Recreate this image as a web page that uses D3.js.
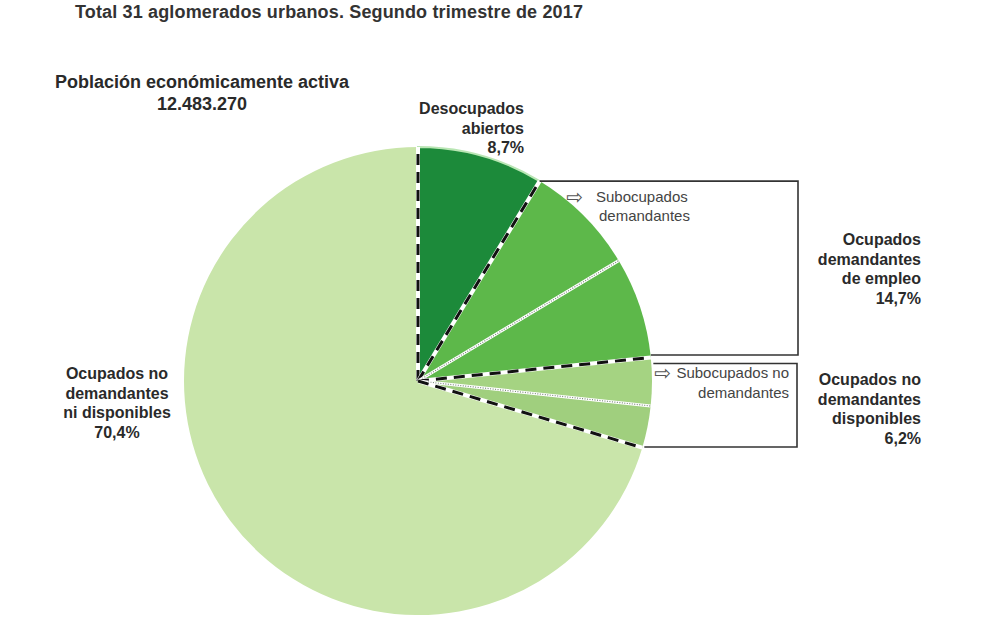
<!DOCTYPE html>
<html>
<head>
<meta charset="utf-8">
<script src="https://cdn.jsdelivr.net/npm/d3@7"></script>
<style>
  body { margin: 0; background: #fff; }
  svg { display: block; font-family: "Liberation Sans", Arial, sans-serif; }
</style>
</head>
<body>
<div id="chart"></div>
<script>
// data
const sliceNames = ["Desocupados abiertos", "Subocupados demandantes", "Otros ocupados demandantes",
  "Subocupados no demandantes", "Otros ocupados no demandantes disponibles", "Ocupados no demandantes ni disponibles"];
const sliceValues = [8.7, 7.7, 7.0, 3.3, 2.9, 70.4];
const sliceColors = ["#1c8a3a", "#5db84a", "#5db84a", "#a5d382", "#a0cf7e", "#c9e5aa"];
// line drawn at the start of each slice
const edgeTypes = ["dashed", "dashed", "dotted", "dashed", "dotted", "dashed"];

const titleText = "Total 31 aglomerados urbanos. Segundo trimestre de 2017";
const peaLines = ["Población económicamente activa", "12.483.270"];
const groupLabels = [
  { lines: ["Desocupados", "abiertos", "8,7%"], x: 524, y: 114, anchor: "end" },
  { lines: ["Ocupados", "demandantes", "de empleo", "14,7%"], x: 921, y: 245, anchor: "end" },
  { lines: ["Ocupados no", "demandantes", "disponibles", "6,2%"], x: 921, y: 385, anchor: "end" },
  { lines: ["Ocupados no", "demandantes", "ni disponibles", "70,4%"], x: 117, y: 379, anchor: "middle" }
];

const width = 1000, height = 627;
const cx = 418, cy = 381, radius = 234;

const svg = d3.select("#chart").append("svg")
  .attr("width", width)
  .attr("height", height);

svg.append("text")
  .attr("x", 75).attr("y", 18)
  .attr("font-size", 18).attr("font-weight", "bold").attr("fill", "#333")
  .attr("letter-spacing", 0.15)
  .text(titleText);

svg.selectAll("text.pea")
  .data(peaLines)
  .enter().append("text")
  .attr("class", "pea")
  .attr("x", 202).attr("y", (d, i) => 88 + i * 22)
  .attr("text-anchor", "middle")
  .attr("font-size", 18).attr("font-weight", "bold").attr("fill", "#2a2a2a")
  .text(d => d);

const pie = d3.pie().sort(null).value(d => d);
const arcs = pie(sliceValues);
const arc = d3.arc().innerRadius(0).outerRadius(radius);

const plot = svg.append("g")
  .attr("transform", `translate(${cx}, ${cy})`);

plot.selectAll("path.slice")
  .data(arcs)
  .enter().append("path")
  .attr("class", "slice")
  .attr("d", arc)
  .attr("fill", (d, i) => sliceColors[i])
  .attr("stroke", (d, i) => i === 0 ? "#b9e6b4" : "none")
  .attr("stroke-width", 2);

// radial separators
const edges = plot.selectAll("g.edge")
  .data(arcs)
  .enter().append("g")
  .attr("class", "edge");
edges.append("line")
  .attr("x1", 0).attr("y1", 0)
  .attr("x2", d => d3.pointRadial(d.startAngle, radius)[0])
  .attr("y2", d => d3.pointRadial(d.startAngle, radius)[1])
  .attr("stroke", "#fff")
  .attr("stroke-width", (d, i) => edgeTypes[i] === "dashed" ? 4 : 3);
edges.append("line")
  .attr("x1", 0).attr("y1", 0)
  .attr("x2", d => d3.pointRadial(d.startAngle, radius)[0])
  .attr("y2", d => d3.pointRadial(d.startAngle, radius)[1])
  .attr("stroke", (d, i) => edgeTypes[i] === "dashed" ? "#111" : "#7a8a7a")
  .attr("stroke-width", (d, i) => edgeTypes[i] === "dashed" ? 3 : 1.2)
  .attr("stroke-dasharray", (d, i) => edgeTypes[i] === "dashed" ? "11,7" : "1,1.5");

// bracket boxes
const p1 = d3.pointRadial(arcs[0].endAngle, radius);
const p2 = d3.pointRadial(arcs[2].endAngle, radius);
const p3 = d3.pointRadial(arcs[4].endAngle, radius);
const box2Top = p2[1] + 6;
const box2X = Math.sqrt(radius * radius - box2Top * box2Top);
svg.append("path")
  .attr("transform", `translate(${cx}, ${cy})`)
  .attr("d", `M${p1[0]},${p1[1]} H${798 - cx} V${355 - cy} H${p2[0]}`)
  .attr("fill", "none").attr("stroke", "#333").attr("stroke-width", 1.6);
svg.append("path")
  .attr("transform", `translate(${cx}, ${cy})`)
  .attr("d", `M${box2X + 2},${box2Top} H${797 - cx} V${447 - cy} H${p3[0] + 2}`)
  .attr("fill", "none").attr("stroke", "#333").attr("stroke-width", 1.6);

// sub-category notes
svg.append("text")
  .attr("x", 566).attr("y", 204)
  .attr("font-family", "DejaVu Sans").attr("font-size", 20).attr("fill", "#555")
  .text("⇨");
svg.selectAll("text.subdem")
  .data(["Subocupados", "demandantes"])
  .enter().append("text")
  .attr("class", "subdem")
  .attr("x", (d, i) => i === 0 ? 596 : 599).attr("y", (d, i) => 202 + i * 19)
  .attr("font-size", 15).attr("fill", "#444")
  .text(d => d);
svg.selectAll("text.subnodem")
  .data(["Subocupados no", "demandantes"])
  .enter().append("text")
  .attr("class", "subnodem")
  .attr("x", 789).attr("y", (d, i) => 378 + i * 20)
  .attr("text-anchor", "end")
  .attr("font-size", 15).attr("fill", "#444")
  .text(d => d);
svg.append("text")
  .attr("x", 654).attr("y", 380)
  .attr("font-family", "DejaVu Sans").attr("font-size", 20).attr("fill", "#555")
  .text("⇨");

// group labels
groupLabels.forEach(g => {
  svg.append("g").selectAll("text")
    .data(g.lines)
    .enter().append("text")
    .attr("x", g.x).attr("y", (d, i) => g.y + i * 19.7)
    .attr("text-anchor", g.anchor)
    .attr("font-size", 16).attr("font-weight", "bold").attr("fill", "#2a2a2a")
    .text(d => d);
});
</script>
</body>
</html>
